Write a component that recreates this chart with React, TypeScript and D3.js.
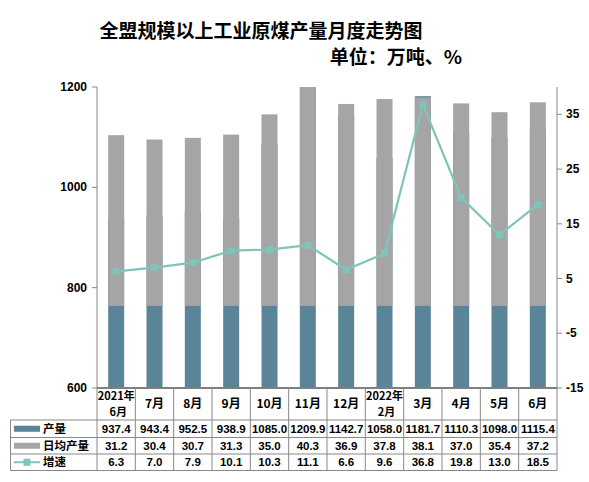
import React from "react";
import * as d3 from "d3";

const categories = ["2021年\n6月", "7月", "8月", "9月", "10月", "11月", "12月", "2022年\n2月", "3月", "4月", "5月", "6月"];
const output = [937.4, 943.4, 952.5, 938.9, 1085.0, 1209.9, 1142.7, 1058.0, 1181.7, 1110.3, 1098.0, 1115.4];
const dailyAvg = [31.2, 30.4, 30.7, 31.3, 35.0, 40.3, 36.9, 37.8, 38.1, 37.0, 35.4, 37.2];
const growth = [6.3, 7.0, 7.9, 10.1, 10.3, 11.1, 6.6, 9.6, 36.8, 19.8, 13.0, 18.5];
const leftTicks = [600, 800, 1000, 1200];
const rightTicks = [-15, -5, 5, 15, 25, 35];
const seriesNames = ["产量", "日均产量", "增速"];

const W = 589, H = 482;
const plotL = 97, plotR = 557, plotT = 87, plotB = 388;
const C_DARK = "#5a8598", C_GRAY = "#a5a5a5", C_LINE = "#7fc4b8", C_AXIS = "#888888";
const FONT = "'Liberation Sans', Arial, sans-serif";
const CJK = "'Noto Sans CJK SC', sans-serif";

export default function App() {
  const x = d3.scaleBand<number>().domain(d3.range(categories.length)).range([plotL, plotR]).paddingInner(0).paddingOuter(0);
  const yL = d3.scaleLinear().domain([600, 1200]).range([plotB, plotT]);
  const yR = d3.scaleLinear().domain([-15, 40]).range([plotB, plotT]);
  const bw = 16;
  const cx = (i: number) => (x(i) as number) + x.bandwidth() / 2;
  const line = d3.line<number>().x((_, i) => cx(i)).y((d) => yR(d));

  const rowY = [420, 437.5, 454, 470.5];
  const tableLeft = 10.5;
  const rows = [output.map((v) => v.toFixed(1)), dailyAvg.map((v) => v.toFixed(1)), growth.map((v) => v.toFixed(1))];

  return (
    <svg width={W} height={H} style={{ position: "absolute", left: 0, top: 0, background: "#fff" }}>
      <rect x={0} y={0} width={W} height={H} fill="#fff" />
      <text x={261} y={38} textAnchor="middle" fontFamily={CJK} fontWeight="bold" fontSize={19} fill="#000">全盟规模以上工业原煤产量月度走势图</text>
      <text x={396} y={64} textAnchor="middle" fontFamily={CJK} fontWeight="bold" fontSize={19} fill="#000">单位：万吨、%</text>

      {output.map((v, i) => (
        <rect key={"o" + i} x={cx(i) - bw / 2} width={bw} y={yL(Math.min(v, 1200))} height={yL(600) - yL(Math.min(v, 1200))} fill={C_DARK} />
      ))}
      {dailyAvg.map((v, i) => (
        <rect key={"d" + i} x={cx(i) - bw / 2} width={bw} y={yR(Math.min(v, 40))} height={yR(0) - yR(Math.min(v, 40))} fill={C_GRAY} />
      ))}
      <path d={line(growth) || ""} fill="none" stroke={C_LINE} strokeWidth={2.2} />
      {growth.map((v, i) => (
        <rect key={"m" + i} x={cx(i) - 3.5} y={yR(v) - 3.5} width={7} height={7} fill={C_LINE} />
      ))}

      <line x1={plotL} x2={plotL} y1={plotT} y2={plotB} stroke={C_AXIS} strokeWidth={1} />
      {leftTicks.map((t) => (
        <g key={"lt" + t}>
          <line x1={plotL - 5} x2={plotL} y1={yL(t)} y2={yL(t)} stroke={C_AXIS} />
          <text x={87} y={yL(t) + 4} textAnchor="end" fontFamily={FONT} fontWeight="bold" fontSize={12} fill="#000">{t}</text>
        </g>
      ))}
      <line x1={plotR} x2={plotR} y1={plotT} y2={plotB} stroke={C_AXIS} strokeWidth={1} />
      {rightTicks.map((t) => (
        <g key={"rt" + t}>
          <line x1={plotR} x2={plotR + 5} y1={yR(t)} y2={yR(t)} stroke={C_AXIS} />
          <text x={566} y={yR(t) + 4} textAnchor="start" fontFamily={FONT} fontWeight="bold" fontSize={12} fill="#000">{t}</text>
        </g>
      ))}
      <line x1={plotL} x2={plotR} y1={plotB} y2={plotB} stroke="#7f7f7f" strokeWidth={2} />

      {rowY.map((y, k) => (
        <line key={"h" + k} x1={tableLeft} x2={plotR} y1={y} y2={y} stroke={C_AXIS} />
      ))}
      {d3.range(categories.length + 1).map((i) => {
        const xx = i < categories.length ? (x(i) as number) : plotR;
        return <line key={"v" + i} x1={xx} x2={xx} y1={plotB} y2={rowY[3]} stroke={C_AXIS} />;
      })}
      <line x1={tableLeft} x2={tableLeft} y1={rowY[0]} y2={rowY[3]} stroke={C_AXIS} />

      {categories.map((c, i) => {
        const parts = c.split("\n");
        if (parts.length === 1) {
          return <text key={"c" + i} x={cx(i)} y={408} textAnchor="middle" fontFamily={CJK} fontWeight="bold" fontSize={12} fill="#000">{c}</text>;
        }
        return (
          <g key={"c" + i}>
            <text x={cx(i)} y={400} textAnchor="middle" fontFamily={CJK} fontWeight="bold" fontSize={11} fill="#000">{parts[0]}</text>
            <text x={cx(i) + 2} y={416} textAnchor="middle" fontFamily={CJK} fontWeight="bold" fontSize={11} fill="#000">{parts[1]}</text>
          </g>
        );
      })}

      {rows.map((r, k) =>
        r.map((s, i) => (
          <text key={"t" + k + "-" + i} x={cx(i)} y={(rowY[k] + rowY[k + 1]) / 2 + 4.2} textAnchor="middle" fontFamily={FONT} fontWeight="bold" fontSize={11.5} fill="#000">{s}</text>
        ))
      )}

      {seriesNames.map((n, k) => {
        const my = (rowY[k] + rowY[k + 1]) / 2;
        return (
          <g key={"lg" + k}>
            {k < 2 ? (
              <rect x={14} y={my - 3} width={26} height={6} fill={k === 0 ? C_DARK : C_GRAY} />
            ) : (
              <g>
                <line x1={14} x2={40} y1={my} y2={my} stroke={C_LINE} strokeWidth={2} />
                <rect x={23.5} y={my - 3.5} width={7} height={7} fill={C_LINE} />
              </g>
            )}
            <text x={43} y={my + 4.2} fontFamily={CJK} fontWeight="bold" fontSize={11.5} fill="#000">{n}</text>
          </g>
        );
      })}
    </svg>
  );
}
